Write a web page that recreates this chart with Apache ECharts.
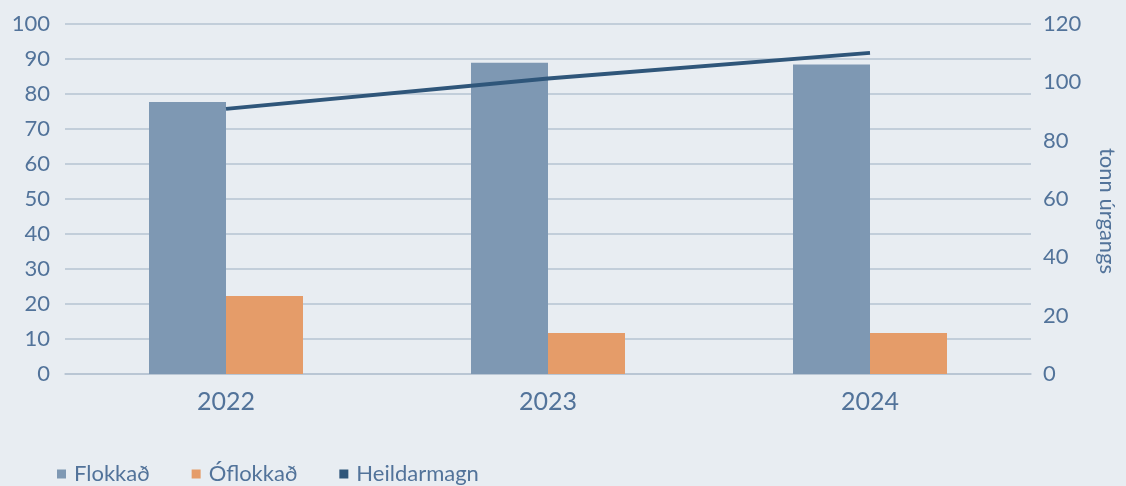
<!DOCTYPE html>
<html>
<head>
<meta charset="utf-8">
<script src="https://cdn.jsdelivr.net/npm/echarts@6/dist/echarts.min.js"></script>
<style>
  html, body { margin: 0; padding: 0; background: #e8edf2; }
  #chart { width: 1126px; height: 486px; }
</style>
</head>
<body>
<div id="chart"></div>
<script>
const years = ['2022', '2023', '2024'];
const flokkad = [77.7, 88.9, 88.4];
const oflokkad = [22.3, 11.7, 11.7];
const heildarmagn = [90.9, 101.3, 110.1];

const textColor = '#52739a';
const gridColor = '#b6c3d2';
const font = 'Lato';

const chart = echarts.init(document.getElementById('chart'));
chart.setOption({
  backgroundColor: '#e8edf2',
  animation: false,
  textStyle: { fontFamily: font },
  grid: { left: 65, right: 92, top: 24, bottom: 112 },
  legend: {
    left: 52, top: 458,
    itemWidth: 9, itemHeight: 9, itemGap: 42,
    textStyle: { color: textColor, fontSize: 22, fontFamily: font, padding: [0, 0, 0, 3] },
    data: [
      { name: 'Flokkað', icon: 'rect' },
      { name: 'Óflokkað', icon: 'rect' },
      { name: 'Heildarmagn', icon: 'rect' }
    ]
  },
  xAxis: {
    type: 'category',
    data: years,
    axisLine: { lineStyle: { color: gridColor, width: 1.5 } },
    axisTick: { show: false },
    axisLabel: { color: textColor, fontSize: 25, margin: 15 }
  },
  yAxis: [
    {
      type: 'value', min: 0, max: 100, interval: 10,
      axisLabel: { color: textColor, fontSize: 22, margin: 15 },
      splitLine: { lineStyle: { color: gridColor, width: 1.5 } },
      axisLine: { show: false }, axisTick: { show: false }
    },
    {
      type: 'value', min: 0, max: 120, interval: 20, position: 'right',
      name: 'tonn úrgangs', nameLocation: 'middle', nameRotate: -90, nameGap: 65,
      nameTextStyle: { color: textColor, fontSize: 22, padding: [0, 0, 0, 24] },
      axisLabel: { color: textColor, fontSize: 22, margin: 12 },
      splitLine: { show: false },
      axisLine: { show: false }, axisTick: { show: false }
    }
  ],
  series: [
    {
      name: 'Flokkað', type: 'bar', data: flokkad, barWidth: 77, barGap: '0%',
      itemStyle: { color: '#7e98b3' }
    },
    {
      name: 'Óflokkað', type: 'bar', data: oflokkad, barWidth: 77, barGap: '0%',
      itemStyle: { color: '#e59c69' }
    },
    {
      name: 'Heildarmagn', type: 'line', yAxisIndex: 1, data: heildarmagn,
      symbol: 'none', lineStyle: { color: '#2f567a', width: 4 },
      itemStyle: { color: '#2f567a' }
    }
  ]
});
</script>
</body>
</html>
